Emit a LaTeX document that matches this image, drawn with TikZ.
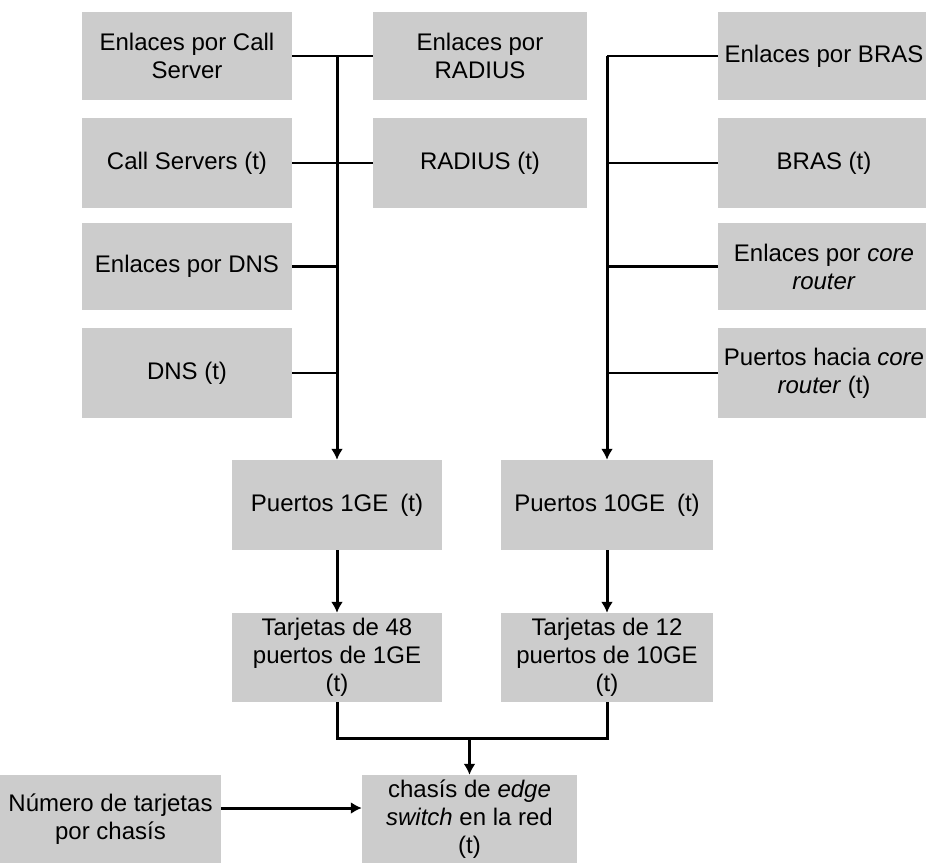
\documentclass[tikz,border=0pt]{standalone}
\usepackage{fontspec}
\setmainfont{Liberation Sans}
\usetikzlibrary{arrows.meta}
\begin{document}
\begin{tikzpicture}[x=1pt,y=-1pt,
  box/.style={fill=black!20, inner sep=0pt, align=center,
    font=\fontsize{24}{28}\selectfont},
  link/.style={line width=2.2pt},
  trunk/.style={line width=3pt},
  flow/.style={line width=3pt, -{Latex[length=11pt,width=12pt]}}]
\useasboundingbox (0,0) rectangle (926,865);

% left column of inputs
\node[box, minimum width=210, minimum height=88] (ecs)  at (187,56)    {Enlaces por Call\\Server};
\node[box, minimum width=210, minimum height=90] (cs)   at (187,163)   {Call Servers (t)};
\node[box, minimum width=210, minimum height=87] (edns) at (187,266.5) {Enlaces por DNS};
\node[box, minimum width=210, minimum height=90] (dns)  at (187,373)   {DNS (t)};

% middle column of inputs
\node[box, minimum width=214, minimum height=88] (erad) at (480,56)  {Enlaces por\\RADIUS};
\node[box, minimum width=214, minimum height=90] (rad)  at (480,163) {RADIUS (t)};

% right column of inputs
\node[box, minimum width=212, minimum height=88] (ebras) at (824,56)    {Enlaces por BRAS};
\node[box, minimum width=212, minimum height=90] (bras)  at (824,163)   {BRAS (t)};
\node[box, minimum width=212, minimum height=87] (ecore) at (824,266.5) {Enlaces por \textit{core}\\\textit{router}};
\node[box, minimum width=212, minimum height=90] (pcore) at (824,373)   {Puertos hacia \textit{core}\\\textit{router} (t)};

% ports and cards
\node[box, minimum width=210, minimum height=90] (p1)  at (337,505)   {Puertos 1GE\enspace(t)};
\node[box, minimum width=212, minimum height=90] (p10) at (607,505)   {Puertos 10GE\enspace(t)};
\node[box, minimum width=210, minimum height=89] (t48) at (337,657.5) {Tarjetas de 48\\puertos de 1GE\\(t)};
\node[box, minimum width=212, minimum height=89] (t12) at (607,657.5) {Tarjetas de 12\\puertos de 10GE\\(t)};

% chassis
\node[box, minimum width=221, minimum height=88] (num)    at (110.5,819) {Número de tarjetas\\por chasís};
\node[box, minimum width=215, minimum height=88] (chasis) at (469.5,819) {chasís de \textit{edge}\\\textit{switch} en la red\\(t)};

% 1GE trunk and its branches
\draw[link] (ecs.east) -- (erad.west);
\draw[link] (cs.east) -- (rad.west);
\draw[link] (edns.east) -- (edns.east -| p1.north);
\draw[link] (dns.east) -- (dns.east -| p1.north);
\draw[flow] (p1.north |- ecs.east) -- (p1.north);

% 10GE trunk and its branches
\draw[link] (p10.north |- ebras.west) -- (ebras.west);
\draw[link] (p10.north |- bras.west) -- (bras.west);
\draw[link] (p10.north |- ecore.west) -- (ecore.west);
\draw[link] (p10.north |- pcore.west) -- (pcore.west);
\draw[flow] (p10.north |- ebras.west) -- (p10.north);

% ports to cards
\draw[flow] (p1) -- (t48);
\draw[flow] (p10) -- (t12);

% cards join into the chassis count
\coordinate (join) at (469.5,738);
\draw[trunk] (t48.south) |- (join) -| (t12.south);
\draw[flow] (join) -- (chasis.north);
\draw[flow] ([yshift=11pt]num.east) -- ([yshift=11pt]chasis.west);
\end{tikzpicture}
\end{document}
